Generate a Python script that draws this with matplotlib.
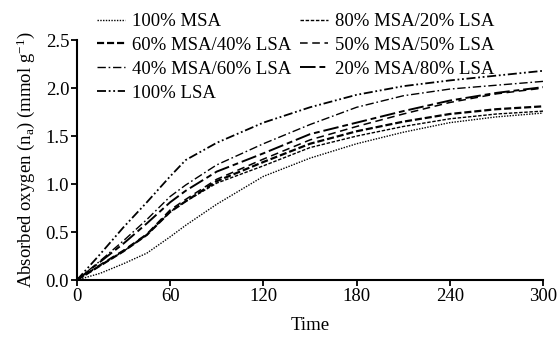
import matplotlib
matplotlib.use("Agg")
import matplotlib.pyplot as plt

plt.rcParams["font.family"] = ["Liberation Serif", "DejaVu Serif"]
plt.rcParams["mathtext.fontset"] = "custom"
plt.rcParams["mathtext.rm"] = "Liberation Serif"
plt.rcParams["mathtext.it"] = "Liberation Serif:italic"

TIME = [0, 15, 30, 45, 60, 70, 90, 120, 150, 180, 210, 240, 270, 300]

MSA_100 = [0.0, 0.07, 0.17, 0.28, 0.45, 0.57, 0.79, 1.08, 1.27, 1.42, 1.54, 1.64, 1.70, 1.74]
MSA80_LSA20 = [0.0, 0.15, 0.30, 0.47, 0.71, 0.82, 1.01, 1.19, 1.38, 1.50, 1.60, 1.68, 1.73, 1.76]
MSA60_LSA40 = [0.0, 0.15, 0.30, 0.47, 0.71, 0.82, 1.03, 1.23, 1.42, 1.55, 1.65, 1.73, 1.78, 1.81]
MSA50_LSA50 = [0.0, 0.16, 0.31, 0.48, 0.73, 0.84, 1.05, 1.26, 1.46, 1.60, 1.73, 1.85, 1.94, 2.00]
MSA40_LSA60 = [0.0, 0.20, 0.41, 0.63, 0.87, 0.99, 1.20, 1.42, 1.62, 1.80, 1.92, 1.99, 2.03, 2.07]
MSA20_LSA80 = [0.0, 0.19, 0.38, 0.59, 0.81, 0.93, 1.13, 1.32, 1.52, 1.64, 1.76, 1.87, 1.95, 2.01]
LSA_100 = [0.0, 0.27, 0.55, 0.81, 1.08, 1.25, 1.43, 1.64, 1.80, 1.93, 2.02, 2.08, 2.13, 2.18]

LABELS = ["100% MSA", "80% MSA/20% LSA", "60% MSA/40% LSA", "50% MSA/50% LSA",
          "40% MSA/60% LSA", "20% MSA/80% LSA", "100% LSA"]
SERIES = [MSA_100, MSA80_LSA20, MSA60_LSA40, MSA50_LSA50, MSA40_LSA60, MSA20_LSA80, LSA_100]

STYLES = [
    dict(ls=(0, (1, 1)), lw=1.0),
    dict(ls=(0, (2.5, 1.2)), lw=1.0),
    dict(ls=(0, (3.2, 1.3)), lw=1.6),
    dict(ls=(0, (5, 3)), lw=1.1),
    dict(ls=(0, (6, 2, 1.2, 2)), lw=1.0),
    dict(ls=(0, (8, 2, 3, 2)), lw=1.4),
    dict(ls=(0, (5, 1.5, 1, 1.5, 1, 1.5)), lw=1.3),
]

FS = 13.5

fig = plt.figure(figsize=(5.57, 3.37), dpi=100)
ax = fig.add_axes([0.138, 0.169, 0.837, 0.712])

handles = []
for vals, lab, st in zip(SERIES, LABELS, STYLES):
    (h,) = ax.plot(TIME, vals, color="black", linestyle=st["ls"], linewidth=st["lw"], label=lab)
    handles.append(h)

ax.set_xlim(0, 300)
ax.set_ylim(0, 2.5)
ax.set_xticks([0, 60, 120, 180, 240, 300])
ax.set_yticks([0.0, 0.5, 1.0, 1.5, 2.0, 2.5])
ax.set_yticklabels(["0.0", "0.5", "1.0", "1.5", "2.0", "2.5"])
ax.tick_params(direction="out", length=4, width=1.3, labelsize=FS, pad=1.5)
for side in ("top", "right"):
    ax.spines[side].set_visible(False)
for side in ("left", "bottom"):
    ax.spines[side].set_linewidth(1.5)

ax.set_xlabel("Time", fontsize=FS, labelpad=9)
ax.set_ylabel(r"Absorbed oxygen (n$_{\rm a}$) (mmol g$^{-1}$)", fontsize=FS, labelpad=6)

order = [0, 2, 4, 6, 1, 3, 5]
fig.legend([handles[i] for i in order], [LABELS[i] for i in order],
           loc="upper left", bbox_to_anchor=(95 / 557, 0.967), ncol=2, frameon=False,
           fontsize=FS, handlelength=1.5, handletextpad=0.35, columnspacing=0.5,
           labelspacing=0.36, borderaxespad=0.0, borderpad=0.1)

fig.savefig("out.png", dpi=100, facecolor="white")
